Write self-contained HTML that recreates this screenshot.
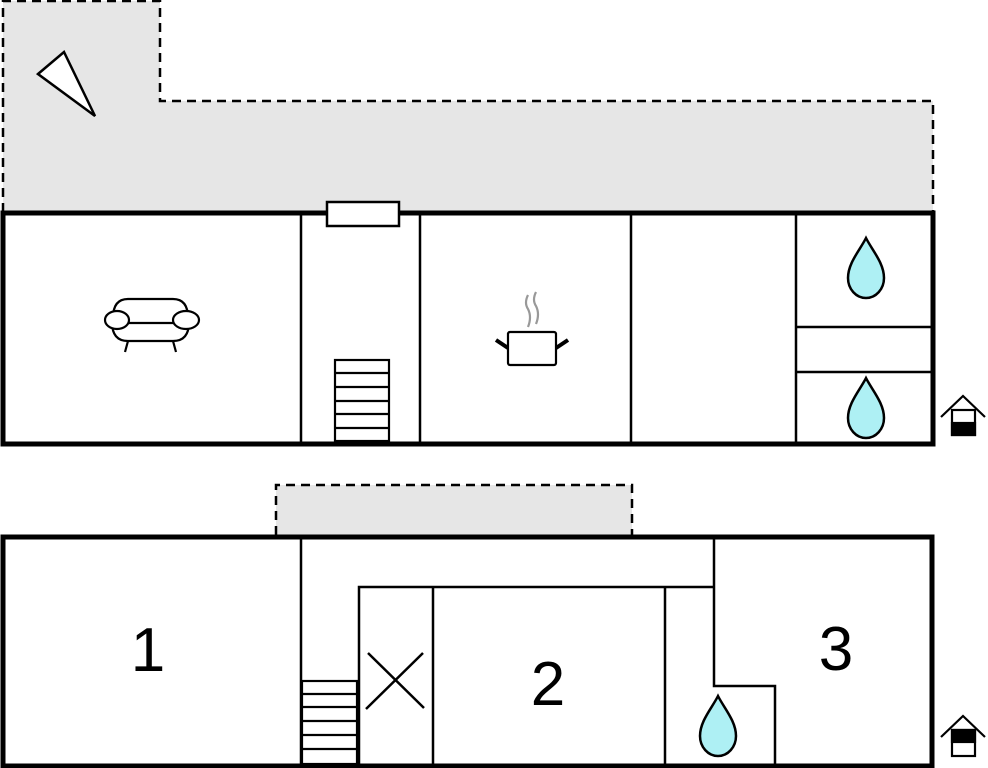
<!DOCTYPE html>
<html><head><style>html,body{margin:0;padding:0;background:#fff;}svg{display:block}</style></head>
<body>
<svg width="988" height="768" viewBox="0 0 988 768" xmlns="http://www.w3.org/2000/svg" font-family="Liberation Sans, sans-serif">
<defs>
<path id="drop" d="M0,-30 C6,-18 18,-5 18,10 C18,21 10,30 0,30 C-10,30 -18,21 -18,10 C-18,-5 -6,-18 0,-30 Z" fill="#aef0f4" stroke="#000" stroke-width="2.5"/>
</defs>
<!-- top gray area -->
<path d="M3,212 L3,1 L160,1 L160,101 L933,101 L933,212 Z" fill="#e6e6e6" stroke="#000" stroke-width="2.5" stroke-dasharray="9,6"/>
<polygon points="38,74 64,52 95,116" fill="#fff" stroke="#000" stroke-width="2.5"/>
<!-- top floor -->
<rect x="3" y="213" width="930" height="231" fill="#fff" stroke="#000" stroke-width="5"/>
<g stroke="#000" stroke-width="2.5">
<line x1="301" y1="213" x2="301" y2="444"/>
<line x1="420" y1="213" x2="420" y2="444"/>
<line x1="631" y1="213" x2="631" y2="444"/>
<line x1="796" y1="213" x2="796" y2="444"/>
<line x1="796" y1="327" x2="933" y2="327"/>
<line x1="796" y1="372" x2="933" y2="372"/>
</g>
<rect x="327" y="202" width="72" height="24" fill="#fff" stroke="#000" stroke-width="2.5"/>
<g stroke="#000" stroke-width="2.2" fill="#fff">
<rect x="335" y="360" width="54" height="81"/>
<line x1="335" y1="373" x2="389" y2="373"/><line x1="335" y1="387" x2="389" y2="387"/>
<line x1="335" y1="401" x2="389" y2="401"/><line x1="335" y1="414" x2="389" y2="414"/>
<line x1="335" y1="428" x2="389" y2="428"/>
</g>
<!-- sofa -->
<g stroke="#000" stroke-width="2.2" fill="#fff">
<path d="M113,318 Q113,299 128,299 L173,299 Q188,299 188,318"/>
<path d="M112,322 Q112,341 128,341 L173,341 Q189,341 189,322"/>
<line x1="117" y1="323" x2="184" y2="323"/>
<ellipse cx="117" cy="320" rx="12" ry="9"/>
<ellipse cx="186" cy="320" rx="13" ry="9"/>
<line x1="128" y1="341" x2="125" y2="352"/><line x1="173" y1="341" x2="176" y2="352"/>
</g>
<!-- pot -->
<g>
<path d="M528,295 q-4,8 0,14 q4,8 0,18" stroke="#999" stroke-width="2.2" fill="none"/>
<path d="M536,292 q-4,8 0,14 q4,8 0,18" stroke="#999" stroke-width="2.2" fill="none"/>
<rect x="508" y="332" width="48" height="33" rx="2" fill="#fff" stroke="#000" stroke-width="2.2"/>
<line x1="496" y1="340" x2="508" y2="348" stroke="#000" stroke-width="4"/>
<line x1="568" y1="340" x2="556" y2="348" stroke="#000" stroke-width="4"/>
</g>
<use href="#drop" x="866" y="268"/>
<use href="#drop" x="866" y="408"/>
<!-- house icon top -->
<g stroke="#000" stroke-width="2.2" fill="none">
<polyline points="941,417 963,396 985,417"/>
<rect x="952" y="410" width="23" height="25" fill="#fff"/>
<rect x="952" y="423" width="23" height="12" fill="#000"/>
</g>
<!-- bottom gray -->
<path d="M276,535 L276,485 L632,485 L632,535" fill="#e6e6e6" stroke="#000" stroke-width="2.5" stroke-dasharray="9,6"/>
<rect x="3" y="537" width="929" height="229" fill="#fff" stroke="#000" stroke-width="5"/>
<g stroke="#000" stroke-width="2.5" fill="none">
<line x1="301" y1="537" x2="301" y2="766"/>
<polyline points="359,766 359,587 714,587"/>
<line x1="433" y1="587" x2="433" y2="766"/>
<line x1="665" y1="587" x2="665" y2="766"/>
<polyline points="714,537 714,686 775,686 775,766"/>
<line x1="368" y1="653" x2="424" y2="708"/>
<line x1="366" y1="709" x2="423" y2="653"/>
</g>
<g stroke="#000" stroke-width="2.2" fill="#fff">
<rect x="302" y="681" width="55" height="83"/>
<line x1="302" y1="694" x2="357" y2="694"/><line x1="302" y1="707" x2="357" y2="707"/>
<line x1="302" y1="721" x2="357" y2="721"/><line x1="302" y1="735" x2="357" y2="735"/>
<line x1="302" y1="749" x2="357" y2="749"/>
</g>
<use href="#drop" x="718" y="726"/>
<text x="148" y="671" font-size="62" text-anchor="middle">1</text>
<text x="548" y="705" font-size="62" text-anchor="middle">2</text>
<text x="836" y="670" font-size="62" text-anchor="middle">3</text>
<!-- house icon bottom -->
<g stroke="#000" stroke-width="2.2" fill="none">
<polyline points="941,737 963,716 985,737"/>
<rect x="952" y="730" width="23" height="26" fill="#fff"/>
<rect x="952" y="730" width="23" height="12" fill="#000"/>
</g>
</svg>
</body></html>
